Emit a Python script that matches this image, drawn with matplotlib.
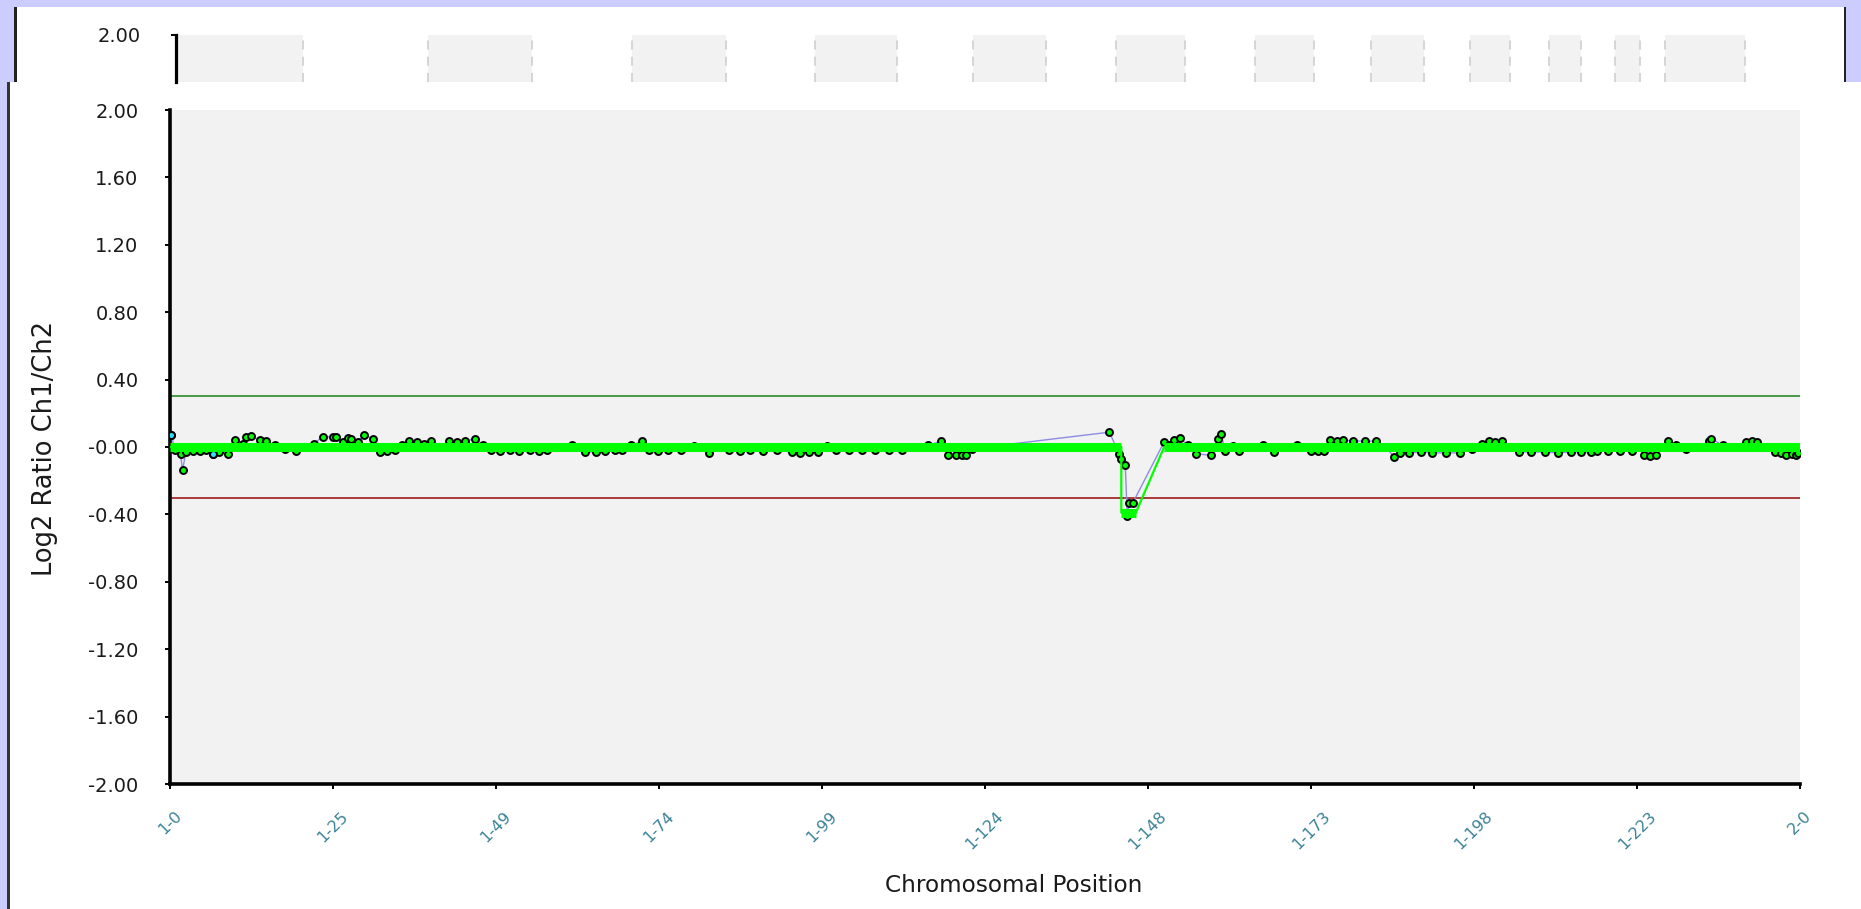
import numpy as np
import matplotlib
matplotlib.use('Agg')
import matplotlib.pyplot as plt
from matplotlib.patches import Rectangle

W, H = 1861, 909
CHROM_LEN = 247.25

# ---------------- data ----------------
x_tick_labels = ['1-0', '1-25', '1-49', '1-74', '1-99', '1-124', '1-148',
                 '1-173', '1-198', '1-223', '2-0']
y_ticks = [2.0, 1.6, 1.2, 0.8, 0.4, 0.0, -0.4, -0.8, -1.2, -1.6, -2.0]
y_tick_labels = ['2.00', '1.60', '1.20', '0.80', '0.40', '-0.00', '-0.40',
                 '-0.80', '-1.20', '-1.60', '-2.00']

probe_pos = [0.15, 0.8, 1.6, 1.9, 2.4, 3.5, 4.6, 5.5, 6.5, 7.5, 8.8, 9.9, 11.0,
             11.6, 12.3, 13.6, 14.6, 16.0, 17.5, 19.1, 20.5, 21.8, 23.2, 24.7,
             25.2, 26.2, 27.0, 27.5, 28.5, 29.5, 30.8, 31.8, 32.9, 34.1, 35.2,
             36.3, 37.5, 38.6, 39.6, 41.0, 42.3, 43.5, 44.8, 46.3, 47.5, 48.7,
             50.0, 51.5, 53.0, 54.6, 56.0, 57.2, 59.0, 61.0, 63.0, 64.6, 66.0,
             67.5, 68.5, 70.0, 71.6, 72.7, 74.0, 75.5, 77.5, 79.5, 81.7, 83.0,
             84.8, 86.5, 88.0, 90.0, 92.0, 94.3, 95.6, 97.0, 98.3, 99.7, 101.0,
             103.0, 105.0, 107.0, 109.0, 111.0, 113.0, 115.0, 117.0, 118.0,
             119.2, 120.2, 120.8, 121.7, 142.5, 144.0, 144.2, 144.9, 145.2,
             145.5, 146.0, 150.8, 151.5, 152.3, 153.2, 154.4, 155.6, 157.9,
             158.9, 159.4, 160.1, 161.2, 162.2, 164.0, 165.8, 167.5, 169.2,
             171.0, 173.1, 174.1, 175.1, 175.9, 177.0, 177.9, 179.5, 181.2,
             183.0, 184.4, 185.7, 186.6, 188.0, 189.8, 191.5, 193.5, 195.7,
             197.5, 199.0, 200.0, 201.0, 202.0, 203.3, 204.7, 206.5, 208.5,
             210.5, 212.5, 214.0, 215.5, 216.4, 218.2, 220.0, 221.8, 222.8,
             223.6, 224.5, 225.4, 226.3, 227.2, 228.5, 230.0, 231.8, 233.5,
             233.8, 235.5, 237.2, 239.0, 240.0, 240.8, 242.2, 243.5, 244.4,
             245.2, 246.0, 246.6, 247.0]
probe_ratio = [0.074, -0.02, -0.044, -0.139, -0.03, -0.025, -0.025, -0.02,
               -0.039, -0.03, -0.039, 0.04, 0.02, 0.06, 0.064, 0.04, 0.035,
               0.01, -0.01, -0.025, 0.0, 0.02, 0.06, 0.06, 0.06, 0.03, 0.055,
               0.045, 0.03, 0.074, 0.045, -0.03, -0.025, -0.02, 0.01, 0.035,
               0.03, 0.02, 0.035, 0.0, 0.035, 0.03, 0.035, 0.05, 0.01, -0.02,
               -0.025, -0.02, -0.025, -0.02, -0.025, -0.02, 0.0, 0.01, -0.03,
               -0.03, -0.025, -0.02, -0.02, 0.01, 0.035, -0.02, -0.025, -0.02,
               -0.02, 0.005, -0.035, 0.0, -0.02, -0.025, -0.02, -0.025, -0.02,
               -0.03, -0.035, -0.03, -0.03, 0.005, -0.015, -0.015, -0.02,
               -0.015, -0.015, -0.015, 0.0, 0.01, 0.035, -0.05, -0.05, -0.045,
               -0.05, -0.01, 0.088, -0.044, -0.074, -0.104, -0.41, -0.335,
               -0.335, 0.03, 0.01, 0.04, 0.054, 0.01, -0.039, -0.05, 0.045,
               0.08, -0.025, 0.005, -0.025, 0.0, 0.01, -0.03, 0.0, 0.01, -0.025,
               -0.025, -0.025, 0.04, 0.035, 0.04, 0.035, 0.035, 0.035, 0.0,
               -0.06, -0.035, -0.035, -0.03, -0.035, -0.035, -0.035, -0.01,
               0.02, 0.035, 0.03, 0.035, 0.0, -0.03, -0.03, -0.03, -0.035,
               -0.03, -0.03, -0.03, -0.025, -0.025, -0.025, -0.025, 0.0, -0.05,
               -0.055, -0.045, 0.0, 0.035, 0.01, -0.01, 0.0, 0.035, 0.05, 0.01,
               0.0, 0.03, 0.035, 0.03, 0.0, -0.03, -0.035, -0.045, -0.04,
               -0.05, -0.035]
flagged_idx = [0, 8]

seg_start = [0.0, 144.3, 150.8]
seg_end = [144.3, 146.5, 247.25]
seg_value = [0.0, -0.39, 0.0]

gain_threshold = 0.30
loss_threshold = -0.30

band_start = [0.0, 38.3, 69.2, 97.0, 121.0, 142.7, 163.8, 181.5, 196.5,
              208.5, 218.5, 226.2]
band_end = [19.3, 54.1, 83.5, 109.5, 132.1, 153.3, 172.8, 189.5, 202.6,
            213.4, 222.3, 238.3]

# ---------------- figure ----------------
fig = plt.figure(figsize=(W / 100, H / 100), dpi=100, facecolor='#ccccff')


def frect(x0, y0, x1, y1, **kw):
    fig.patches.append(Rectangle((x0 / W, 1 - y1 / H), (x1 - x0) / W,
                                 (y1 - y0) / H, transform=fig.transFigure,
                                 figure=fig, zorder=-5, **kw))


def fax(x0, y0, x1, y1):
    return fig.add_axes([x0 / W, 1 - y1 / H, (x1 - x0) / W, (y1 - y0) / H])


# panels
frect(8, 82, W, H, facecolor='white', edgecolor='none')
frect(7, 82, 9.5, H, facecolor='#333333', edgecolor='none')
frect(15, 7, 1845, 82, facecolor='white', edgecolor='none')
frect(14, 7, 16.5, 82, facecolor='#222222', edgecolor='none')
frect(1843.5, 7, 1846, 82, facecolor='#222222', edgecolor='none')

# ---------- top (ideogram-like) panel ----------
axt = fax(176, 35, 1804, 82)
axt.set_xlim(0, CHROM_LEN)
axt.set_ylim(0, 1)
axt.patch.set_visible(False)
for s, e in zip(band_start, band_end):
    axt.axvspan(s, e, facecolor='#f2f2f2', edgecolor='none')
    for xv in (s, e):
        axt.axvline(xv, color='#d2d2d2', lw=1.3, dashes=(5, 4), ymax=0.95)
for sp in ('top', 'right', 'bottom'):
    axt.spines[sp].set_visible(False)
axt.spines['left'].set_linewidth(2.3)
axt.spines['left'].set_color('black')
axt.set_xticks([])
axt.set_yticks([1.0])
axt.set_yticklabels(['2.00'])
axt.tick_params(axis='y', direction='out', length=3.6, width=1.4,
                pad=22, labelsize=14, labelcolor='#1a1a1a')

# ---------- main panel ----------
ax = fax(170, 110, 1800, 784)
ax.set_facecolor('#f2f2f2')
ax.set_xlim(0, CHROM_LEN)
ax.set_ylim(-2.0, 2.0)

ax.axhline(gain_threshold, color='#2a8a2a', lw=1.2, zorder=2)
ax.axhline(loss_threshold, color='#9b1c1c', lw=1.2, zorder=2)

ax.plot(probe_pos, probe_ratio, color='#8c8ce6', lw=1.0, zorder=3)
ax.plot(probe_pos, probe_ratio, 'o', ms=5.0, mfc='#00ff00', mec='black',
        mew=1.4, zorder=4)
ax.plot([probe_pos[i] for i in flagged_idx],
        [probe_ratio[i] for i in flagged_idx], 'o', ms=5.0, mfc='#33ddff',
        mec='black', mew=1.4, zorder=4.5)

cx, cy = [], []
for s, e, v in zip(seg_start, seg_end, seg_value):
    cx += [s, e]
    cy += [v, v]
ax.plot(cx, cy, color='#00ff00', lw=1.6, zorder=5)
for s, e, v in zip(seg_start, seg_end, seg_value):
    ax.plot([s, e], [v, v], color='#00ff00', lw=6.5, solid_capstyle='butt',
            zorder=6)

for sp in ('top', 'right'):
    ax.spines[sp].set_visible(False)
for sp in ('left', 'bottom'):
    ax.spines[sp].set_linewidth(2.6)
    ax.spines[sp].set_color('black')

ax.set_yticks(y_ticks)
ax.set_yticklabels(y_tick_labels)
ax.tick_params(axis='y', direction='out', length=3.6, width=1.4, pad=19,
               labelsize=14, labelcolor='#1a1a1a')

ax.set_xticks(np.linspace(0, CHROM_LEN, len(x_tick_labels)))
ax.set_xticklabels(x_tick_labels, rotation=45, ha='center', va='top')
ax.tick_params(axis='x', direction='out', length=3.6, width=1.4, pad=14,
               labelsize=11.5, labelcolor='#3a8296')

fig.text(45 / W, 1 - 448 / H, 'Log2 Ratio Ch1/Ch2', rotation=90,
         ha='center', va='center', fontsize=18.5, color='#1a1a1a')
fig.text(1014 / W, 1 - 885 / H, 'Chromosomal Position', ha='center',
         va='center', fontsize=16.7, color='#1a1a1a')

fig.savefig('out.png', dpi=100, facecolor=fig.get_facecolor())
